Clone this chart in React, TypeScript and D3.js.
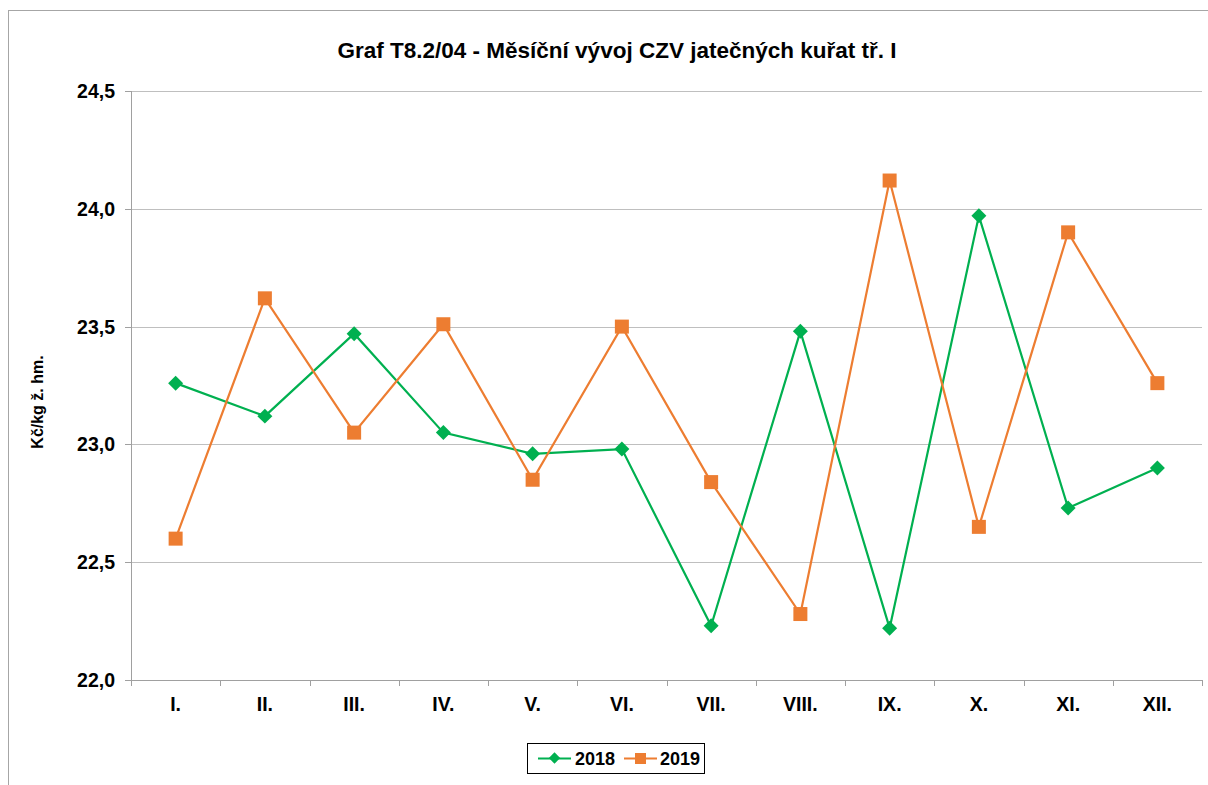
import React from "react";
import * as d3 from "d3";

const months = ["I.", "II.", "III.", "IV.", "V.", "VI.", "VII.", "VIII.", "IX.", "X.", "XI.", "XII."];
const values2018 = [23.26, 23.12, 23.47, 23.05, 22.96, 22.98, 22.23, 23.48, 22.22, 23.97, 22.73, 22.90];
const values2019 = [22.60, 23.62, 23.05, 23.51, 22.85, 23.50, 22.84, 22.28, 24.12, 22.65, 23.90, 23.26];
const yTicks = [22.0, 22.5, 23.0, 23.5, 24.0, 24.5];
const seriesNames = ["2018", "2019"];

const W = 1208, H = 785;
const L = 131, R = 1202, T = 91, B = 680;
const GREEN = "#00B050", ORANGE = "#ED7D31";
const FONT = "'Liberation Sans', Arial, sans-serif";

export default function App() {
  const x = d3.scaleBand<string>().domain(months).range([L, R]);
  const y = d3.scaleLinear().domain([22, 24.5]).range([B, T]);
  const cx = (m: string) => (x(m) as number) + x.bandwidth() / 2;
  const line = d3.line<number>().x((_, i) => cx(months[i])).y((v) => y(v));
  const fmt = (v: number) => v.toFixed(1).replace(".", ",");
  const boundaries = d3.range(months.length + 1).map((i) => L + i * x.bandwidth());

  return (
    <svg width={W} height={H} style={{ position: "absolute", left: 0, top: 0, fontFamily: FONT }}>
      <rect x={0} y={0} width={W} height={H} fill="#fff" />
      <rect x={8.5} y={10.5} width={W + 10} height={H + 10} fill="none" stroke="#A6A6A6" strokeWidth={1} />
      <text x={617} y={58} textAnchor="middle" fontSize={22.5} fontWeight="bold" fill="#000">
        Graf T8.2/04 - Měsíční vývoj CZV jatečných kuřat tř. I
      </text>
      {yTicks.map((t) => (
        <g key={t}>
          {t > 22 && <line x1={L} x2={R} y1={Math.round(y(t)) + 0.5} y2={Math.round(y(t)) + 0.5} stroke="#BFBFBF" strokeWidth={1} />}
          <line x1={L - 6} x2={L} y1={Math.round(y(t)) + 0.5} y2={Math.round(y(t)) + 0.5} stroke="#A0A0A0" />
          <text x={115} y={y(t) + 7} textAnchor="end" fontSize={19.5} fontWeight="bold" fill="#000">
            {fmt(t)}
          </text>
        </g>
      ))}
      <line x1={L + 0.5} x2={L + 0.5} y1={T} y2={B} stroke="#A0A0A0" />
      <line x1={L} x2={R} y1={B + 0.5} y2={B + 0.5} stroke="#A0A0A0" />
      {boundaries.map((bx, i) => (
        <line key={i} x1={Math.round(bx) + 0.5} x2={Math.round(bx) + 0.5} y1={B} y2={B + 6} stroke="#A0A0A0" />
      ))}
      {months.map((m) => (
        <text key={m} x={cx(m)} y={711} textAnchor="middle" fontSize={19.5} fontWeight="bold" fill="#000">
          {m}
        </text>
      ))}
      <text transform="translate(42.5,402) rotate(-90)" textAnchor="middle" fontSize={16} fontWeight="bold" fill="#000">
        Kč/kg ž. hm.
      </text>
      <path d={line(values2018) || ""} fill="none" stroke={GREEN} strokeWidth={2.2} />
      <path d={line(values2019) || ""} fill="none" stroke={ORANGE} strokeWidth={2.2} />
      {values2018.map((v, i) => (
        <rect key={"d" + i} x={cx(months[i]) - 5.3} y={y(v) - 5.3} width={10.6} height={10.6} fill={GREEN}
          transform={`rotate(45 ${cx(months[i])} ${y(v)})`} />
      ))}
      {values2019.map((v, i) => (
        <rect key={"s" + i} x={cx(months[i]) - 7} y={y(v) - 7} width={14} height={14} fill={ORANGE} />
      ))}
      <g>
        <rect x={527.5} y={743.5} width={177} height={30} fill="#fff" stroke="#000" strokeWidth={1} />
        <line x1={538} x2={571} y1={758.5} y2={758.5} stroke={GREEN} strokeWidth={2.2} />
        <rect x={550.5} y={754} width={8} height={8} fill={GREEN} transform="rotate(45 554.5 758)" />
        <text x={575} y={764.5} fontSize={18} fontWeight="bold" fill="#000">{seriesNames[0]}</text>
        <line x1={624} x2={657} y1={758.5} y2={758.5} stroke={ORANGE} strokeWidth={2.2} />
        <rect x={635} y={753} width={11} height={11} fill={ORANGE} />
        <text x={660} y={764.5} fontSize={18} fontWeight="bold" fill="#000">{seriesNames[1]}</text>
      </g>
    </svg>
  );
}
